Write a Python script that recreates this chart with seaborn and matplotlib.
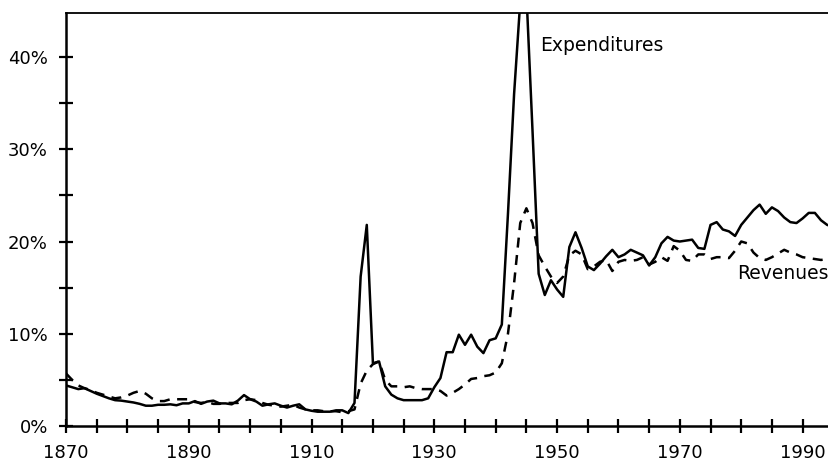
import numpy as np
import pandas as pd
import matplotlib
matplotlib.use("Agg")
import matplotlib.pyplot as plt
import seaborn as sns
from matplotlib.ticker import MultipleLocator, FixedLocator, FuncFormatter

# federal expenditures and revenues, share of GDP (%)
years = list(range(1870, 1996))

expenditures = [
    4.4, 4.2, 4.0, 4.1, 3.8, 3.5, 3.25, 3.0, 2.8, 2.75,          # 1870s
    2.65, 2.55, 2.4, 2.2, 2.2, 2.3, 2.3, 2.35, 2.25, 2.45,       # 1880s
    2.45, 2.7, 2.4, 2.65, 2.75, 2.45, 2.45, 2.35, 2.75, 3.35,    # 1890s
    2.9, 2.65, 2.2, 2.35, 2.45, 2.2, 2.0, 2.2, 2.35, 1.8,        # 1900s
    1.65, 1.55, 1.55, 1.55, 1.7, 1.7, 1.4, 2.5, 16.2, 21.8,      # 1910s
    6.8, 7.0, 4.3, 3.4, 3.0, 2.8, 2.8, 2.8, 2.8, 3.0,            # 1920s
    4.2, 5.2, 8.0, 8.0, 9.9, 8.8, 9.9, 8.6, 7.9, 9.3,            # 1930s
    9.5, 11.0, 23.0, 36.0, 46.0, 47.0, 32.0, 16.5, 14.2, 15.8,   # 1940s
    14.8, 14.0, 19.4, 21.0, 19.3, 17.3, 16.9, 17.6, 18.4, 19.1,  # 1950s
    18.3, 18.6, 19.1, 18.8, 18.5, 17.4, 18.3, 19.8, 20.5, 20.1,  # 1960s
    20.0, 20.1, 20.2, 19.3, 19.2, 21.8, 22.1, 21.3, 21.1, 20.6,  # 1970s
    21.8, 22.6, 23.4, 24.0, 23.0, 23.7, 23.3, 22.6, 22.1, 22.0,  # 1980s
    22.5, 23.1, 23.1, 22.3, 21.8, 21.6,                          # 1990s
]

revenues = [
    5.7, 5.0, 4.4, 4.1, 3.9, 3.6, 3.4, 3.2, 3.0, 3.1,
    3.3, 3.6, 3.8, 3.5, 3.0, 2.7, 2.7, 2.9, 2.9, 2.9,
    2.9, 2.6, 2.5, 2.6, 2.4, 2.4, 2.5, 2.5, 2.5, 2.8,
    2.9, 2.8, 2.5, 2.3, 2.2, 2.1, 2.2, 2.3, 2.0, 1.8,
    1.7, 1.7, 1.6, 1.6, 1.6, 1.5, 1.6, 1.8, 4.6, 6.0,
    6.7, 7.0, 5.0, 4.3, 4.3, 4.2, 4.3, 4.1, 4.0, 4.0,
    4.0, 3.8, 3.3, 3.6, 4.0, 4.5, 5.1, 5.2, 5.4, 5.5,
    5.8, 6.8, 10.0, 15.5, 22.0, 23.6, 22.0, 18.5, 17.3, 16.2,
    15.5, 16.2, 18.5, 19.0, 18.6, 17.0, 17.3, 17.8, 18.0, 16.8,
    17.8, 18.0, 17.9, 18.0, 18.3, 17.5, 17.8, 18.3, 17.9, 19.5,
    19.0, 18.0, 17.9, 18.6, 18.6, 18.1, 18.3, 18.3, 18.2, 19.0,
    20.0, 19.8, 18.8, 18.2, 18.0, 18.3, 18.7, 19.1, 18.8, 18.6,
    18.3, 18.2, 18.1, 18.0, 18.1, 18.2,
]

year_labels = [1870, 1890, 1910, 1930, 1950, 1970, 1990]

df = pd.DataFrame({"year": years, "Expenditures": expenditures, "Revenues": revenues})

sns.set_theme(style="ticks")
plt.rcParams["font.family"] = ["DejaVu Sans"]
plt.rcParams["text.color"] = "black"

fig = plt.figure(figsize=(8.29, 4.66), dpi=100)
ax = fig.add_axes([66 / 829, 40 / 466, 763 / 829, 413 / 466])

sns.lineplot(data=df, x="year", y="Revenues", ax=ax, color="black",
             linewidth=1.8, dashes=False)
ax.lines[-1].set_dashes((4, 3))
sns.lineplot(data=df, x="year", y="Expenditures", ax=ax, color="black",
             linewidth=1.8)

ax.set_xlim(1870, 1994.3)
ax.set_ylim(0, 44.77)

ax.xaxis.set_major_locator(FixedLocator(year_labels))
ax.xaxis.set_minor_locator(MultipleLocator(5))
ax.yaxis.set_major_locator(MultipleLocator(10))
ax.yaxis.set_minor_locator(MultipleLocator(5))
ax.yaxis.set_major_formatter(FuncFormatter(lambda v, p: f"{v:.0f}%"))

ax.tick_params(which="both", direction="inout", length=10, width=1.6,
               color="black", labelsize=13, labelcolor="black")
ax.tick_params(axis="x", which="major", pad=8)
ax.tick_params(axis="y", which="major", pad=8)

ax.set_xlabel("")
ax.set_ylabel("")
ax.spines["right"].set_visible(False)
for side in ["left", "bottom"]:
    ax.spines[side].set_linewidth(1.8)
    ax.spines[side].set_color("black")
ax.spines["top"].set_linewidth(1.3)
ax.spines["top"].set_color("black")

ax.text(1947.2, 41.3, "Expenditures", fontsize=13.5, va="center", ha="left", color="black")
ax.text(1979.4, 16.5, "Revenues", fontsize=13.5, va="center", ha="left", color="black")

fig.savefig("out.png", dpi=100)
